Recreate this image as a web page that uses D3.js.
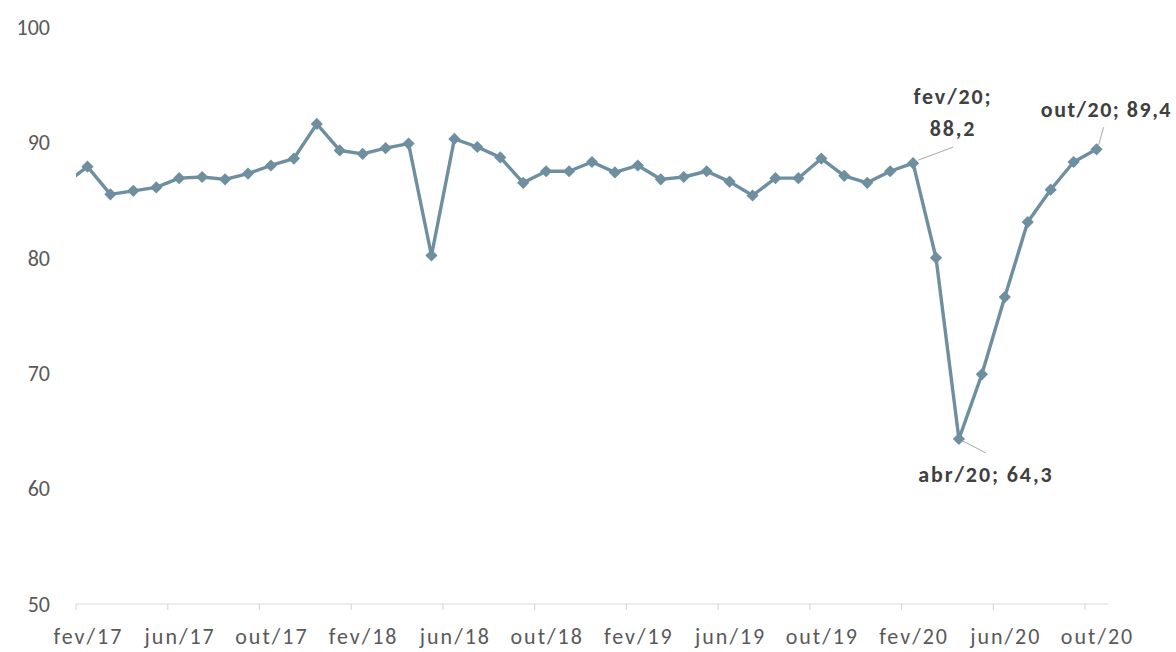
<!DOCTYPE html>
<html><head><meta charset="utf-8">
<script src="https://cdn.jsdelivr.net/npm/d3@7"></script>
<style>
html,body{margin:0;padding:0;background:#fff;}
svg{display:block;}
text{font-family:Carlito,Lato,"Liberation Sans",sans-serif;}
</style></head>
<body><svg id="c" width="1176" height="652"></svg>
<script>
const categories = [
 "fev/17","mar/17","abr/17","mai/17","jun/17","jul/17","ago/17","set/17","out/17","nov/17","dez/17",
 "jan/18","fev/18","mar/18","abr/18","mai/18","jun/18","jul/18","ago/18","set/18","out/18","nov/18","dez/18",
 "jan/19","fev/19","mar/19","abr/19","mai/19","jun/19","jul/19","ago/19","set/19","out/19","nov/19","dez/19",
 "jan/20","fev/20","mar/20","abr/20","mai/20","jun/20","jul/20","ago/20","set/20","out/20"];
const values = [
 87.9,85.5,85.8,86.1,86.9,87.0,86.8,87.3,88.0,88.6,91.6,
 89.3,89.0,89.5,89.9,80.2,90.3,89.6,88.7,86.5,87.5,87.5,88.3,
 87.4,88.0,86.8,87.0,87.5,86.6,85.4,86.9,86.9,88.6,87.1,86.5,
 87.5,88.2,80.0,64.3,69.9,76.6,83.1,85.9,88.3,89.4];
const priorValue = 86.4; // jan/17, clipped at the plot edge
const xTickLabels = ["fev/17","jun/17","out/17","fev/18","jun/18","out/18","fev/19","jun/19","out/19","fev/20","jun/20","out/20"];
const yTicks = [50,60,70,80,90,100];
const annotations = [
 {cat:"fev/20", lines:["fev/20;","88,2"]},
 {cat:"abr/20", lines:["abr/20; 64,3"]},
 {cat:"out/20", lines:["out/20; 89,4"]}
];

const svg = d3.select("#c");
const pLeft = 76, pRight = 1108, pTop = 27, pBottom = 604;
const x = d3.scaleBand().domain(categories).range([pLeft, pRight]).padding(0);
const y = d3.scaleLinear().domain([50,100]).range([pBottom, pTop]);
const bw = x.bandwidth();
const cx = c => x(c) + bw/2;
const lineColor = "#6E8FA0";

// y labels
svg.append("g").selectAll("text").data(yTicks).join("text")
  .attr("x", 50).attr("y", d => y(d)).attr("dy","0.35em")
  .attr("text-anchor","end").attr("font-size",22).attr("fill","#595959")
  .text(d => d);

// x axis
svg.append("line").attr("x1",pLeft).attr("x2",pRight).attr("y1",pBottom).attr("y2",pBottom)
  .attr("stroke","#d9d9d9").attr("stroke-width",1.2);
svg.append("g").selectAll("line").data(xTickLabels).join("line")
  .attr("x1", d => x(d)).attr("x2", d => x(d))
  .attr("y1", pBottom).attr("y2", pBottom+6)
  .attr("stroke","#d9d9d9").attr("stroke-width",1.2);
svg.append("g").selectAll("text").data(xTickLabels).join("text")
  .attr("x", d => cx(d)+1).attr("y", 644)
  .attr("text-anchor","middle").attr("font-size",22).attr("letter-spacing","2px").attr("fill","#595959")
  .text(d => d);

// clip
svg.append("clipPath").attr("id","plot").append("rect")
  .attr("x",pLeft).attr("y",0).attr("width",1176-pLeft).attr("height",pBottom);

const pts = [{px: cx(categories[0]) - bw, v: priorValue}]
  .concat(categories.map((c,i)=>({px: cx(c), v: values[i]})));
const line = d3.line().x(d=>d.px).y(d=>y(d.v));
svg.append("path").datum(pts).attr("d", line).attr("fill","none")
  .attr("stroke", lineColor).attr("stroke-width",3.4).attr("stroke-linejoin","round")
  .attr("clip-path","url(#plot)");

const sym = d3.symbol().type(d3.symbolDiamond2).size(95);
svg.append("g").selectAll("path").data(categories).join("path")
  .attr("transform",(c,i)=>`translate(${cx(c)},${y(values[i])})`)
  .attr("d", sym()).attr("fill", lineColor);

// annotations
const lab = svg.append("g").attr("font-size",22).attr("font-weight","bold")
  .attr("letter-spacing","1.9px").attr("fill","#404040");
const fa = annotations[0], aa = annotations[1], oa = annotations[2];
function val(c){ return values[categories.indexOf(c)]; }
// fev/20
{
  const px = cx(fa.cat), py = y(val(fa.cat));
  svg.append("line").attr("x1",px+5).attr("y1",py-3).attr("x2",px+40).attr("y2",py-16)
    .attr("stroke","#a6a6a6").attr("stroke-width",1);
  lab.append("text").attr("x",px+40).attr("y",py-59).attr("text-anchor","middle").text(fa.lines[0]);
  lab.append("text").attr("x",px+40).attr("y",py-27).attr("text-anchor","middle").text(fa.lines[1]);
}
// abr/20
{
  const px = cx(aa.cat), py = y(val(aa.cat));
  svg.append("line").attr("x1",px+4).attr("y1",py+2).attr("x2",px+27).attr("y2",py+14)
    .attr("stroke","#a6a6a6").attr("stroke-width",1);
  lab.append("text").attr("x",px+27).attr("y",py+43).attr("text-anchor","middle").text(aa.lines[0]);
}
// out/20
{
  const px = cx(oa.cat), py = y(val(oa.cat));
  svg.append("line").attr("x1",px+2).attr("y1",py-4).attr("x2",px+7).attr("y2",py-22)
    .attr("stroke","#a6a6a6").attr("stroke-width",1);
  lab.append("text").attr("x",1172).attr("y",py-32).attr("text-anchor","end")
    .attr("letter-spacing","1.5px").text(oa.lines[0]);
}
</script></body></html>
